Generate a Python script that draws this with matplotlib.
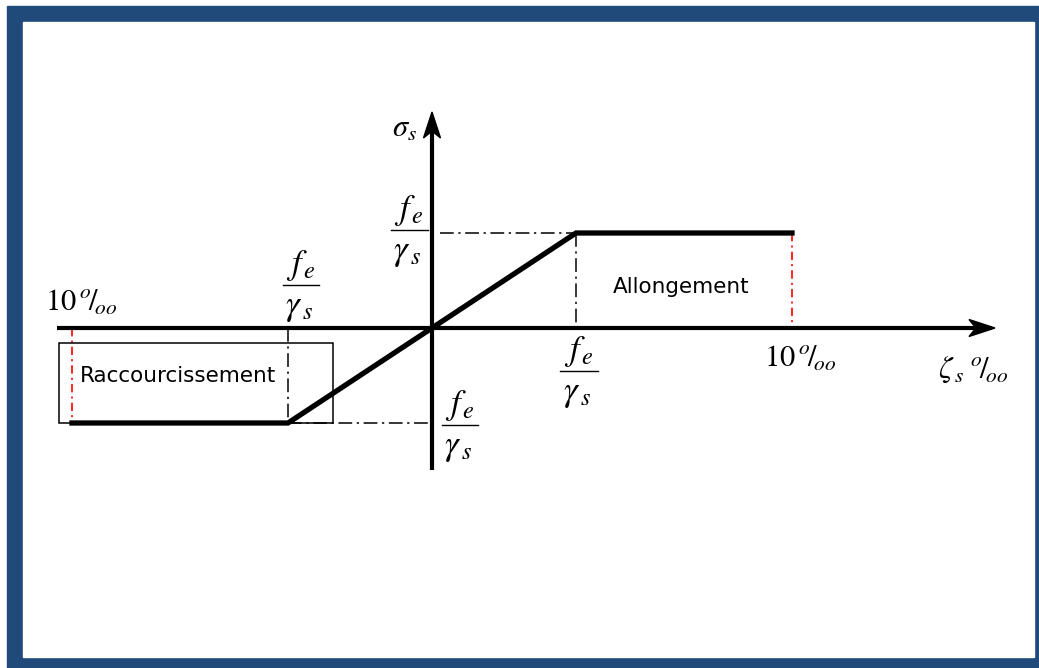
import matplotlib
matplotlib.use("Agg")
import matplotlib.pyplot as plt
from matplotlib.patches import Rectangle, Polygon

plt.rcParams["mathtext.fontset"] = "stix"

# Bilinear steel stress-strain law (strain in per-mille, stress in units of fe/gamma_s)
strain = [-10, -4, 4, 10]
stress = [-1, -1, 1, 1]
eps_el = 4        # fe / (gamma_s * Es)
eps_max = 10      # 10 per-mille limit
fyd = 1           # fe / gamma_s

W, H = 1039, 668
fig = plt.figure(figsize=(W / 100, H / 100), dpi=100)

# Data axes spanning the figure (origin at pixel 432, 328)
X0, Y0, SX, SY = 432, 328, 36, 95
ax = fig.add_axes([0, 0, 1, 1])
ax.set_xlim(-X0 / SX, (W - X0) / SX)
ax.set_ylim(-(H - Y0) / SY, Y0 / SY)
ax.axis("off")

# Frame
ax.add_patch(Rectangle((7 / W, 0), (W - 7) / W, (H - 6) / H,
                       transform=fig.transFigure, color="#1F4A7A", zorder=-10))
ax.add_patch(Rectangle((23 / W, 11 / H), (1034 - 23) / W, (657 - 22) / H,
                       transform=fig.transFigure, color="white", zorder=-9))

def px(x):
    return x / SX

def py(y):
    return y / SY

# Coordinate axes with arrowheads
x_lo, x_hi = px(57 - X0), px(995 - X0)
y_lo, y_hi = -py(470 - Y0), py(Y0 - 112)
ax.plot([x_lo, x_hi - px(10)], [0, 0], color="black", lw=3.0, solid_capstyle="butt", zorder=3)
ax.plot([0, 0], [y_lo, y_hi - py(10)], color="black", lw=3.0, solid_capstyle="butt", zorder=3)

L, HW, IN = 26, 8.5, 7
ax.add_patch(Polygon([(x_hi, 0), (x_hi - px(L), py(HW)), (x_hi - px(L - IN), 0),
                      (x_hi - px(L), -py(HW))], closed=True, color="black", zorder=4))
ax.add_patch(Polygon([(0, y_hi), (px(HW), y_hi - py(L)), (0, y_hi - py(L - IN)),
                      (-px(HW), y_hi - py(L))], closed=True, color="black", zorder=4))

# Stress-strain law
ax.plot(strain, stress, color="black", lw=3.8, solid_joinstyle="miter", zorder=5)

# Construction lines
dd = dict(color="black", lw=1.1, dashes=(9, 3, 1.5, 3), zorder=2)
ax.plot([px(8), eps_el], [fyd, fyd], **dd)
ax.plot([eps_el, eps_el], [fyd, 0], **dd)
ax.plot([-eps_el, -eps_el], [0, -fyd], **dd)
ax.plot([-eps_el, 0], [-fyd, -fyd], **dd)
rd = dict(color="red", lw=1.2, dashes=(5, 2.5, 1.2, 2.5), zorder=2)
ax.plot([eps_max, eps_max], [fyd, 0], **rd)
ax.plot([-eps_max, -eps_max], [0, -fyd], **rd)

# Compression zone box
ax.add_patch(Rectangle((px(59 - X0), -fyd), px(333 - 59), py(425 - 345),
                       fill=False, ec="black", lw=1.1, zorder=2))

ax.text(px(178 - X0), -py(376 - Y0), "Raccourcissement", fontsize=15.5,
        family="DejaVu Sans", ha="center", va="center", zorder=6)
ax.text(px(681 - X0), py(Y0 - 287), "Allongement", fontsize=15.5,
        family="DejaVu Sans", ha="center", va="center", zorder=6)

MS = 22
FS = 25

def frac(xc, yline, w):
    """Draw fe / gamma_s as a stacked fraction centred at xc (data units)."""
    ax.text(xc, yline + py(2), r"$f_{\,e}$", fontsize=FS, ha="center", va="bottom")
    ax.text(xc - px(2), yline - py(5), r"$\gamma_{\,s}$", fontsize=FS, ha="center", va="top")
    ax.plot([xc - px(w / 2), xc + px(w / 2)], [yline, yline], color="black", lw=1.0)

frac(px(409 - X0), py(Y0 - 230), 37)
frac(px(460 - X0), -py(425 - Y0), 36)
frac(px(579 - X0), -py(371 - Y0), 38)
frac(px(301 - X0), py(Y0 - 285), 36)

ax.text(px(405 - X0), py(Y0 - 128), r"$\sigma_{s}$", fontsize=MS, ha="center", va="center")

permil = r"$10\,{}^{o}\!/_{\!oo}$"
ax.text(px(81 - X0), py(Y0 - 302), permil, fontsize=MS, ha="center", va="center")
ax.text(px(800 - X0), -py(358 - Y0), permil, fontsize=MS, ha="center", va="center")
ax.text(px(973 - X0), -py(370 - Y0), r"$\zeta_{\,s}\;{}^{o}\!/_{\!oo}$", fontsize=MS,
        ha="center", va="center")

fig.savefig("out.png", dpi=100)
